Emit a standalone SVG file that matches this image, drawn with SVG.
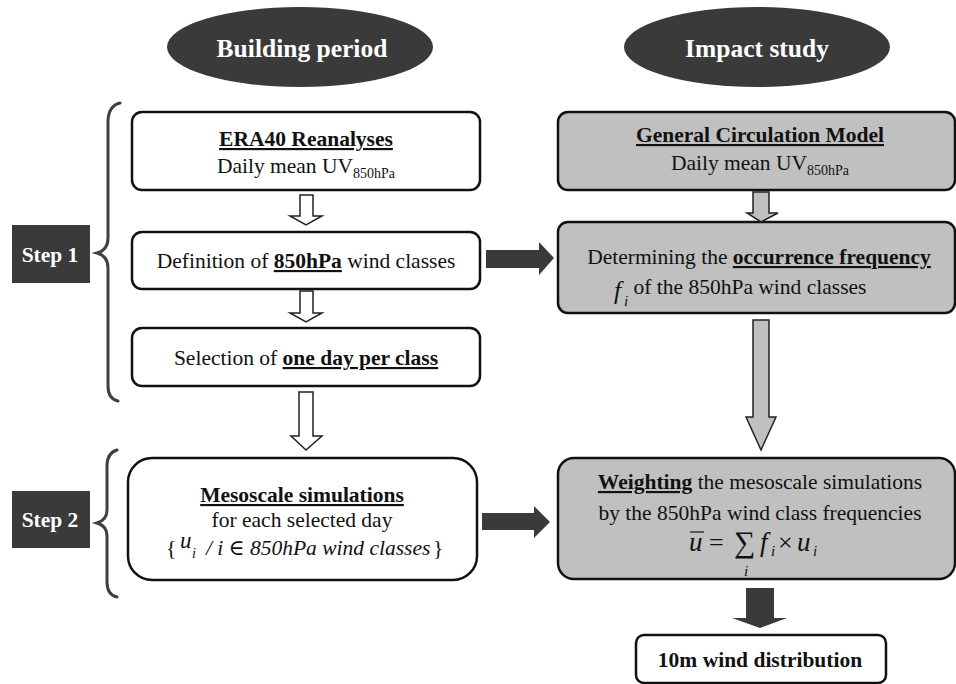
<svg xmlns="http://www.w3.org/2000/svg" width="956" height="684" viewBox="0 0 956 684" font-family="'Liberation Serif', 'DejaVu Serif', serif">
<defs>
<style>
text{font-family:'Liberation Serif','DejaVu Serif',serif;fill:#111;}
.t{font-size:21.5px;}
.b{font-weight:bold;}
.u{text-decoration:underline;}
.w{fill:#fff;}
.box{fill:#fff;stroke:#111;stroke-width:2.5;}
.gbox{fill:#c0c0c0;stroke:#111;stroke-width:2.5;}
.dark{fill:#3a3a3a;}
.hol{fill:#fff;stroke:#222;stroke-width:1.5;}
.gar{fill:#c0c0c0;stroke:#222;stroke-width:1.5;}
.brace{fill:none;stroke:#404040;stroke-width:3;stroke-linecap:round;}
.it{font-style:italic;}
</style>
</defs>
<rect width="956" height="684" fill="#fff"/>

<g id="hdr-building">
<ellipse cx="300" cy="47" rx="133" ry="40" class="dark"/>
<text x="302" y="57" text-anchor="middle" class="b w" font-size="25.5">Building period</text>
</g>
<g id="hdr-impact">
<ellipse cx="757" cy="47" rx="133" ry="40" class="dark"/>
<text x="757" y="57" text-anchor="middle" class="b w" font-size="25.5">Impact study</text>
</g>

<g id="step1">
<rect x="12" y="225" width="78" height="58" class="dark"/>
<text x="50" y="262" text-anchor="middle" class="b w" font-size="21.5">Step 1</text>
<path class="brace" d="M120,103 Q108,106 108,122 L108,238 Q108,250 97,253 Q108,256 108,268 L108,386 Q108,399 118,401"/>
</g>
<g id="step2">
<rect x="12" y="491" width="78" height="57" class="dark"/>
<text x="50" y="527" text-anchor="middle" class="b w" font-size="21.5">Step 2</text>
<path class="brace" d="M117,450 Q107,453 107,466 L107,510 Q107,520 97,523 Q107,526 107,536 L107,582 Q107,595 117,597"/>
</g>

<g id="era40">
<rect x="132" y="112" width="348" height="78" rx="10" class="box"/>
<text x="306" y="146" text-anchor="middle" class="t b u">ERA40 Reanalyses</text>
<text x="306" y="173" text-anchor="middle" class="t">Daily mean UV<tspan font-size="14" dy="5">850hPa</tspan></text>
</g>

<g id="definition">
<rect x="132" y="232" width="348" height="57" rx="10" class="box"/>
<text x="306" y="268" text-anchor="middle" class="t">Definition of <tspan class="b u">850hPa</tspan> wind classes</text>
</g>

<g id="selection">
<rect x="132" y="328" width="348" height="58" rx="10" class="box"/>
<text x="306" y="365" text-anchor="middle" class="t">Selection of <tspan class="b u">one day per class</tspan></text>
</g>

<g id="mesoscale">
<rect x="128" y="458" width="349" height="122" rx="24" class="box"/>
<text x="302" y="502" text-anchor="middle" class="t b u">Mesoscale simulations</text>
<text x="302" y="527" text-anchor="middle" class="t">for each selected day</text>
<text x="166" y="555" class="t">{</text>
<text x="180" y="548" class="it" font-size="23">u</text>
<text x="192" y="558" class="it" font-size="14">i</text>
<text x="206" y="555" class="t it">/ i ∈ 850hPa wind classes</text>
<text x="433" y="555" class="t">}</text>
</g>

<g id="gcm">
<rect x="558" y="112" width="397" height="78" rx="10" class="gbox"/>
<text x="760" y="142" text-anchor="middle" class="t b u">General Circulation Model</text>
<text x="760" y="170" text-anchor="middle" class="t">Daily mean UV<tspan font-size="14" dy="5">850hPa</tspan></text>
</g>

<g id="determining">
<rect x="558" y="222" width="397" height="91" rx="10" class="gbox"/>
<text x="759" y="264" text-anchor="middle" class="t">Determining the <tspan class="b u">occurrence frequency</tspan></text>
<text x="614" y="299" class="it" font-size="25">f</text>
<text x="624" y="306" class="it" font-size="15">i</text>
<text x="750" y="294" text-anchor="middle" class="t">of the 850hPa wind classes</text>
</g>

<g id="weighting">
<rect x="558" y="458" width="397" height="121" rx="16" class="gbox"/>
<text x="760" y="489" text-anchor="middle" class="t"><tspan class="b u">Weighting</tspan> the mesoscale simulations</text>
<text x="760" y="520" text-anchor="middle" class="t">by the 850hPa wind class frequencies</text>
<text x="689" y="551" class="it" font-size="27">u</text>
<line x1="690" y1="532" x2="704" y2="532" stroke="#111" stroke-width="1.2"/>
<text x="709" y="551" font-size="26">=</text>
<text x="734" y="552" font-size="30">∑</text>
<text x="744" y="576" class="it" font-size="15">i</text>
<text x="760" y="551" class="it" font-size="27">f</text>
<text x="771" y="556" class="it" font-size="15">i</text>
<text x="778" y="551" font-size="26">×</text>
<text x="797" y="551" class="it" font-size="27">u</text>
<text x="813" y="556" class="it" font-size="15">i</text>
</g>

<g id="wind10m">
<rect x="636" y="635" width="250" height="48" rx="8" class="box"/>
<text x="760" y="667" text-anchor="middle" class="t b">10m wind distribution</text>
</g>

<g id="connectors">
<path class="hol" d="M300,195 L313,195 L313,216 L322,216 L306,225 L290,216 L300,216 Z"/>
<path class="hol" d="M300,291 L313,291 L313,313 L322,313 L306,322 L290,313 L300,313 Z"/>
<path class="hol" d="M299,392 L313,392 L313,436 L322,436 L306,450 L291,436 L299,436 Z"/>
<path class="dark" d="M486,250 L539,250 L539,242 L554,258 L539,275 L539,268 L486,268 Z"/>
<path class="dark" d="M482,513 L534,513 L534,506 L550,522 L534,538 L534,530 L482,530 Z"/>
<path class="gar" d="M753,192 L769,192 L769,213 L778,213 L761,222 L747,213 L753,213 Z"/>
<path class="gar" d="M753,320 L769,320 L769,417 L776,417 L761,450 L746,417 L753,417 Z"/>
<path class="dark" d="M746,588 L774,588 L774,618 L787,618 L760,628 L732,618 L746,618 Z"/>
</g>
</svg>
